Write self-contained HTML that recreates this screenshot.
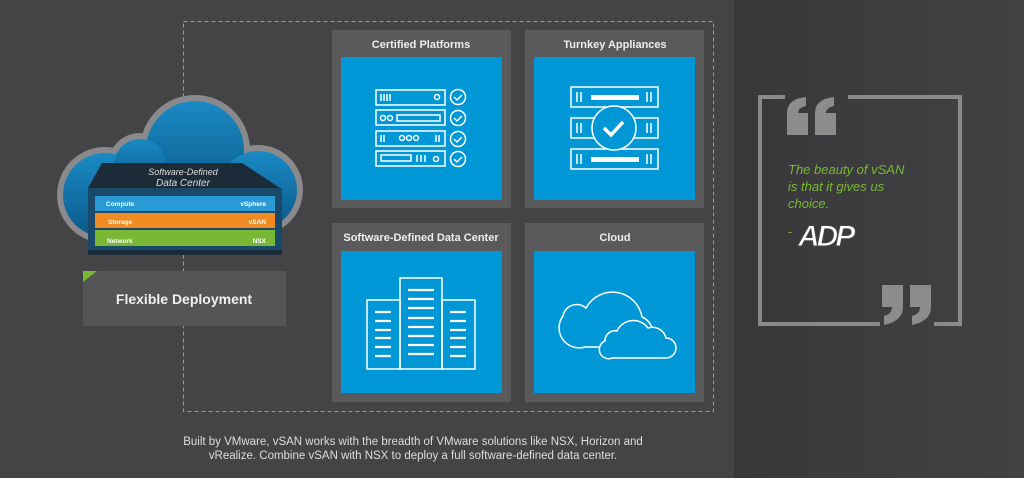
<!DOCTYPE html>
<html><head><style>
html,body{margin:0;width:1024px;height:478px;overflow:hidden;background:#444446;font-family:"Liberation Sans",sans-serif;}
svg{display:block}
</style></head><body>
<svg width="1024" height="478" xmlns="http://www.w3.org/2000/svg" font-family="Liberation Sans, sans-serif">
<defs>
<linearGradient id="rg" x1="0" x2="1"><stop offset="0" stop-color="#38383a"/><stop offset="1" stop-color="#424244"/></linearGradient>
<linearGradient id="cg" x1="0" y1="0" x2="0" y2="1"><stop offset="0" stop-color="#1a8ac4"/><stop offset="1" stop-color="#0a5a8a"/></linearGradient>
</defs>
<rect width="1024" height="478" fill="#444446"/>
<rect x="734" y="0" width="290" height="478" fill="url(#rg)"/>
<rect x="183.5" y="21.5" width="530" height="390" fill="none" stroke="#9a9a9a" stroke-width="1" stroke-dasharray="4,3"/>
<g fill="#5a5a5c"><rect x="332" y="30" width="179" height="178"/><rect x="525" y="30" width="179" height="178"/><rect x="332" y="223" width="179" height="179"/><rect x="525" y="223" width="179" height="179"/></g>
<g fill="#0097d6"><rect x="341" y="57" width="161" height="143"/><rect x="534" y="57" width="161" height="143"/><rect x="341" y="251" width="161" height="142"/><rect x="534" y="251" width="161" height="142"/></g>
<g fill="#eee" font-size="11" font-weight="bold" text-anchor="middle">
<text x="421" y="48">Certified Platforms</text><text x="615" y="48">Turnkey Appliances</text>
<text x="421" y="241">Software-Defined Data Center</text><text x="615" y="241">Cloud</text></g>
<g stroke="#fff" stroke-width="1.5" fill="none">
<rect x="376" y="90" width="69" height="15"/><rect x="376" y="110" width="69" height="15"/><rect x="376" y="131" width="69" height="15"/><rect x="376" y="151" width="69" height="15"/>
<path d="M381 94v7M384 94v7M387 94v7M390 94v7"/><circle cx="437" cy="97" r="2.5"/>
<circle cx="383" cy="118" r="2.5"/><circle cx="390" cy="118" r="2.5"/><rect x="397" y="115" width="43" height="6"/>
<path d="M381 135v7M384 135v7M436 135v7M439 135v7"/><circle cx="402" cy="138" r="2.5"/><circle cx="409" cy="138" r="2.5"/><circle cx="416" cy="138" r="2.5"/>
<rect x="381" y="155" width="30" height="6"/><path d="M417 155v7M421 155v7M425 155v7"/><circle cx="436" cy="159" r="2.5"/>
<circle cx="458" cy="97" r="7.5"/><circle cx="458" cy="118" r="7.5"/><circle cx="458" cy="139" r="7.5"/><circle cx="458" cy="159" r="7.5"/>
<path d="M454 97l3 3 5-5M454 118l3 3 5-5M454 139l3 3 5-5M454 159l3 3 5-5"/>
</g>
<g stroke="#fff" stroke-width="1.5" fill="none">
<rect x="571" y="87" width="87" height="20"/><rect x="571" y="118" width="87" height="20"/><rect x="571" y="149" width="87" height="20"/>
<path d="M577 92v10M581 92v10M647 92v10M651 92v10M577 123v10M581 123v10M647 123v10M651 123v10M577 154v10M581 154v10M647 154v10M651 154v10"/>
<circle cx="614" cy="128" r="22" fill="#0097d6"/>
<path d="M604 128l7 7 12-13" stroke-width="3.5"/>
</g>
<g fill="#fff"><rect x="591" y="95" width="48" height="5"/><rect x="591" y="157" width="48" height="5"/></g>
<g stroke="#fff" stroke-width="1.5" fill="none">
<rect x="367" y="300" width="33" height="69"/><rect x="400" y="278" width="42" height="91"/><rect x="442" y="300" width="33" height="69"/>
</g>
<g stroke="#fff" stroke-width="2.2">
<path d="M375 312h16M375 321h16M375 330h16M375 338h16M375 347h16M375 356h16"/>
<path d="M408 290h26M408 299h26M408 308h26M408 318h26M408 327h26M408 336h26M408 345h26M408 354h26"/>
<path d="M450 312h16M450 321h16M450 330h16M450 338h16M450 347h16M450 356h16"/>
</g>
<g stroke="#fff" stroke-width="1.5" fill="#0097d6">
<path d="M585 347h62a18 18 0 0 0 -5 -30a30 30 0 0 0 -56 -9a14 14 0 0 0 -23 8a20 20 0 0 0 22 31z"/>
<path d="M612 358h54a10 10 0 0 0 0 -20a14 14 0 0 0 -18 -10a18 18 0 0 0 -31 3a10 10 0 0 0 -12 10a9 9 0 0 0 7 17z"/>
</g>
<!-- left big cloud -->
<g fill="#8a8a8c">
<circle cx="195" cy="150" r="55"/><circle cx="105" cy="195" r="48"/><circle cx="258" cy="190" r="45"/><circle cx="140" cy="165" r="32"/><rect x="105" y="190" width="155" height="55"/>
</g>
<g fill="url(#cg)">
<circle cx="195" cy="150" r="49"/><circle cx="105" cy="195" r="42"/><circle cx="258" cy="190" r="39"/><circle cx="140" cy="165" r="26"/><rect x="105" y="190" width="155" height="49"/>
</g>
<path d="M102 163h140l38 25H88z" fill="#1c2b38"/>
<rect x="88" y="188" width="194" height="67" fill="#1a4a6a"/>
<rect x="88" y="250" width="194" height="5" fill="#1c2b38"/>
<text x="183" y="175" fill="#ddd" font-size="9" font-style="italic" text-anchor="middle">Software-Defined</text>
<text x="183" y="186" fill="#ddd" font-size="10" font-style="italic" text-anchor="middle">Data Center</text>
<rect x="95" y="196" width="180" height="15" fill="#2a9ad6"/>
<rect x="95" y="213" width="180" height="15" fill="#f08a22"/>
<rect x="95" y="230" width="180" height="16" fill="#7ab735"/>
<g fill="#fff" font-size="6.5" font-weight="bold"><text x="106" y="206">Compute</text><text x="108" y="224">Storage</text><text x="107" y="243">Network</text>
<text x="266" y="206" text-anchor="end">vSphere</text><text x="266" y="224" text-anchor="end">vSAN</text><text x="266" y="243" text-anchor="end">NSX</text></g>
<rect x="83" y="271" width="203" height="55" fill="#555557"/>
<path d="M83 271h14l-14 11z" fill="#7ab735"/>
<text x="184" y="304" fill="#f0f0f0" font-size="14" font-weight="bold" text-anchor="middle">Flexible Deployment</text>
<!-- quote -->
<g fill="none" stroke="#8a8a8a" stroke-width="4">
<path d="M785 97h-25v227h120"/><path d="M848 97h112v227h-26"/>
</g>
<g fill="#8c8c8c">
<path d="M787 135V113Q787 99 806 97V106Q798 108 798 113H808V135Z"/>
<path d="M815 135V113Q815 99 834 97V106Q826 108 826 113H836V135Z"/>
<path d="M882 285H903V307Q903 321 884 325V316Q892 314 892 307H882Z"/>
<path d="M910 285H931V307Q931 321 912 325V316Q920 314 920 307H910Z"/>
</g>
<g fill="#7ab735" font-size="13" font-style="italic"><text x="788" y="174">The beauty of vSAN</text><text x="788" y="191">is that it gives us</text><text x="788" y="208">choice.</text></g>
<text x="788" y="236" fill="#7ab735" font-size="13">-</text>
<text x="798" y="246" fill="#fff" stroke="#444" stroke-width="1" font-size="30" font-weight="bold" font-style="italic" letter-spacing="-3">ADP</text>
<g fill="#ddd" font-size="11.5" text-anchor="middle"><text x="413" y="445">Built by VMware, vSAN works with the breadth of VMware solutions like NSX, Horizon and</text><text x="413" y="459">vRealize. Combine vSAN with NSX to deploy a full software-defined data center.</text></g>
</svg>
</body></html>
